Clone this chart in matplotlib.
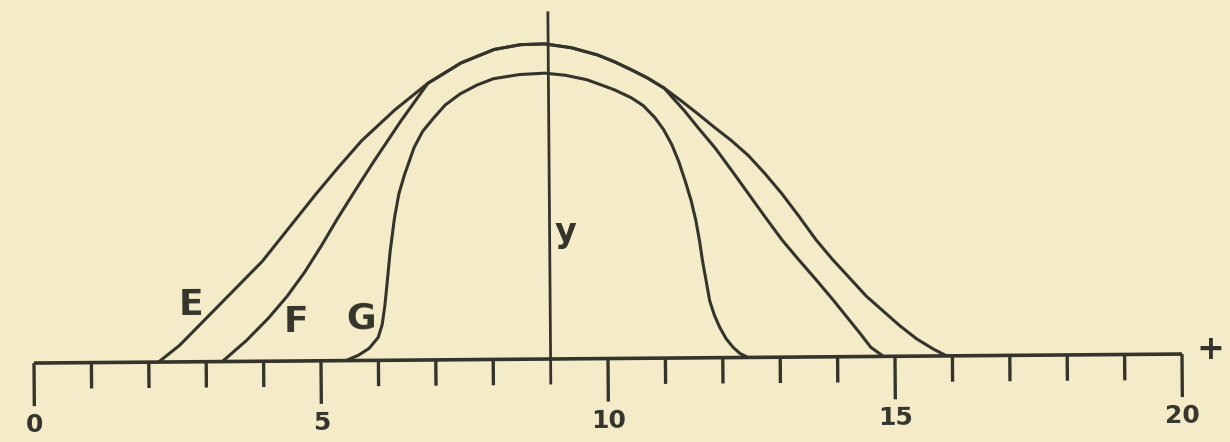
import matplotlib
matplotlib.use("Agg")
import matplotlib.pyplot as plt
from matplotlib.transforms import Affine2D

# curve E
e_x = [2.17, 2.54, 2.95, 3.41, 3.99, 4.46, 4.93, 5.33, 5.74, 6.32, 6.90, 7.48, 8.06, 8.52,
       8.94, 9.40, 9.86, 10.15, 10.44, 10.73, 11.02, 11.31, 11.60, 11.89, 12.18, 12.47,
       12.76, 13.05, 13.34, 13.64, 13.93, 14.22, 14.51, 14.80, 15.09, 15.38, 15.67, 15.90]
e_y = [0.00, 0.29, 0.70, 1.16, 1.74, 2.32, 2.90, 3.37, 3.83, 4.36, 4.82, 5.17, 5.40, 5.48,
       5.49, 5.42, 5.29, 5.17, 5.03, 4.88, 4.70, 4.48, 4.25, 4.01, 3.78, 3.52,
       3.20, 2.85, 2.46, 2.04, 1.69, 1.37, 1.05, 0.79, 0.53, 0.30, 0.12, 0.00]

# curve F (runs along E over the top)
f_x = [3.28, 3.70, 4.09, 4.42, 4.73, 5.02, 5.31, 5.63, 5.95, 6.42, 6.90, 7.48, 8.06, 8.52,
       8.94, 9.40, 9.86, 10.15, 10.44, 10.73, 11.02, 11.14, 11.37, 11.60, 11.89, 12.18,
       12.47, 12.76, 13.05, 13.34, 13.64, 13.93, 14.16, 14.39, 14.58, 14.80]
f_y = [0.00, 0.36, 0.75, 1.13, 1.55, 2.00, 2.48, 2.98, 3.47, 4.16, 4.82, 5.17, 5.40, 5.48,
       5.49, 5.42, 5.29, 5.17, 5.03, 4.88, 4.70, 4.56, 4.30, 4.01, 3.66, 3.26,
       2.85, 2.44, 2.04, 1.69, 1.34, 0.99, 0.70, 0.41, 0.16, 0.00]

# curve G
g_x = [5.43, 5.65, 5.84, 6.00, 6.07, 6.12, 6.16, 6.22, 6.30, 6.38, 6.48, 6.65, 6.80, 7.00,
       7.20, 7.46, 7.75, 8.04, 8.50, 8.94, 9.30, 9.67, 9.86, 10.15, 10.44, 10.65, 10.85,
       11.00, 11.14, 11.26, 11.37, 11.47, 11.55, 11.61, 11.66, 11.72, 11.78, 11.86, 11.95,
       12.06, 12.18, 12.30, 12.44]
g_y = [0.00, 0.09, 0.21, 0.40, 0.62, 0.95, 1.32, 1.90, 2.48, 2.90, 3.23, 3.70, 3.98, 4.22,
       4.44, 4.63, 4.78, 4.89, 4.96, 4.98, 4.94, 4.86, 4.79, 4.68, 4.54, 4.40, 4.19,
       3.98, 3.72, 3.42, 3.08, 2.74, 2.39, 2.04, 1.69, 1.34, 0.99, 0.74, 0.53,
       0.33, 0.18, 0.07, 0.00]

tick_pos = list(range(0, 21))
major_ticks = [0, 5, 10, 15, 20]
tick_labels = ["0", "5", "10", "15", "20"]
y_axis_at = 9

ink = "#34342b"
paper = "#f4ebc9"

fig = plt.figure(figsize=(12.3, 4.42), dpi=100, facecolor=paper)
ax = fig.add_axes([0, 0, 1, 1])
ax.set_facecolor(paper)
ax.set_xlim(-0.592, 20.836)
ax.set_ylim(-1.446, 6.254)
ax.axis("off")

# the sheet sits slightly askew
tr = Affine2D().rotate_deg_around(y_axis_at, 0, 0.45) + ax.transData

# axes
ax.plot([0, 20], [0, 0], color=ink, lw=2.6, solid_capstyle="butt", transform=tr)
ax.plot([y_axis_at, y_axis_at], [-0.42, 6.03], color=ink, lw=2.0, transform=tr)
for t in tick_pos:
    if t == y_axis_at:
        continue
    low = -0.75 if t in major_ticks else -0.45
    ax.plot([t, t], [0, low], color=ink, lw=2.4, solid_capstyle="butt", transform=tr)
for t, lab in zip(major_ticks, tick_labels):
    ax.text(t, -1.08, lab, ha="center", va="center", fontsize=18, fontweight="bold",
            color=ink, rotation=0.45, transform=tr)

# curves
for xs, ys in [(e_x, e_y), (f_x, f_y), (g_x, g_y)]:
    ax.plot(xs, ys, color=ink, lw=2.2, solid_joinstyle="round",
            solid_capstyle="round", transform=tr)

# lettering
for s, x, y in [("E", 2.75, 1.0), ("F", 4.56, 0.68), ("G", 5.71, 0.74)]:
    ax.text(x, y, s, ha="center", va="center", fontsize=26, fontweight="bold",
            color=ink, rotation=0.45, transform=tr)
ax.text(9.27, 2.21, "y", ha="center", va="center", fontsize=24, fontweight="bold",
        color=ink, transform=tr)
ax.text(20.5, 0.07, "+", ha="center", va="center", fontsize=24, fontweight="bold",
        color=ink, transform=tr)

fig.savefig("out.png", dpi=100, facecolor=paper)
